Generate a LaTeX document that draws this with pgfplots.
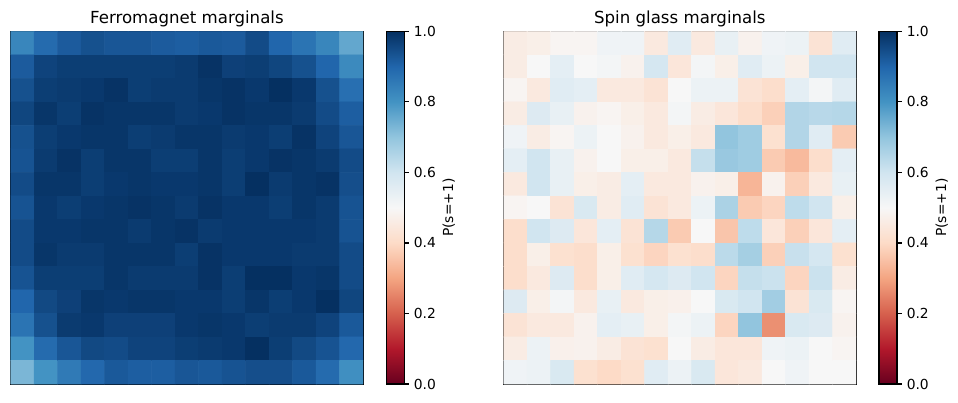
\documentclass[border=0pt]{standalone}
\usepackage{fontspec}
\setmainfont{DejaVu Sans}
\usepackage{pgfplots}
\pgfplotsset{compat=1.18}
\pgfplotsset{
  colormap={RdBu}{rgb255=(103,0,31) rgb255=(178,24,43) rgb255=(214,96,77) rgb255=(244,165,130) rgb255=(253,219,199) rgb255=(247,247,247) rgb255=(209,229,240) rgb255=(146,197,222) rgb255=(67,147,195) rgb255=(33,102,172) rgb255=(5,48,97)},
  hm/.style={
    scale only axis, width=254.8pt, height=254.8pt,
    anchor=south west,
    xmin=-0.5, xmax=14.5, ymin=-0.5, ymax=14.5, y dir=reverse,
    xtick=\empty, ytick=\empty,
    axis line style={line width=0.8pt},
    point meta min=0, point meta max=1,
    title style={font=\fontsize{12}{14}\selectfont, at={(0.5,1)}, anchor=base, yshift=0pt, inner sep=0pt},
    colorbar,
    colorbar style={
      width=13pt,
      at={(parent axis.north east)}, anchor=north west, xshift=8pt,
      ytick={0,0.2,0.4,0.6,0.8,1},
      ytick pos=right, yticklabel pos=right,
      yticklabel style={font=\fontsize{10}{12}\selectfont, /pgf/number format/.cd, fixed, fixed zerofill, precision=1, assume math mode=true},
      ylabel={P(s=+1)}, ylabel style={font=\fontsize{10}{12}\selectfont, yshift=2pt},
      tick align=outside, major tick length=3.5pt, tick style={line width=0.8pt, black},
      axis line style={line width=0.8pt},
    },
  }
}
\begin{document}
\begin{tikzpicture}
\path[use as bounding box] (0,0) rectangle (692.3pt,291.2pt);
\begin{axis}[hm, at={(7.7pt,13.7pt)}, title={Ferromagnet marginals}]
\addplot[matrix plot*, mesh/cols=15, mesh/ordering=x varies, point meta=explicit] table[row sep=\\, meta=c] {
x y c\\
0 0 0.83\\ 1 0 0.89\\ 2 0 0.92\\ 3 0 0.94\\ 4 0 0.93\\ 5 0 0.93\\ 6 0 0.92\\ 7 0 0.915\\ 8 0 0.925\\ 9 0 0.92\\ 10 0 0.95\\ 11 0 0.90\\ 12 0 0.87\\ 13 0 0.83\\ 14 0 0.76\\
0 1 0.92\\ 1 1 0.965\\ 2 1 0.975\\ 3 1 0.975\\ 4 1 0.975\\ 5 1 0.975\\ 6 1 0.975\\ 7 1 0.98\\ 8 1 0.995\\ 9 1 0.97\\ 10 1 0.975\\ 11 1 0.96\\ 12 1 0.94\\ 13 1 0.90\\ 14 1 0.82\\
0 2 0.94\\ 1 2 0.975\\ 2 2 0.98\\ 3 2 0.985\\ 4 2 0.995\\ 5 2 0.975\\ 6 2 0.98\\ 7 2 0.98\\ 8 2 0.99\\ 9 2 0.995\\ 10 2 0.985\\ 11 2 1.0\\ 12 2 0.985\\ 13 2 0.94\\ 14 2 0.88\\
0 3 0.96\\ 1 3 0.99\\ 2 3 0.975\\ 3 3 0.995\\ 4 3 0.99\\ 5 3 0.99\\ 6 3 0.99\\ 7 3 0.98\\ 8 3 0.985\\ 9 3 0.995\\ 10 3 0.99\\ 11 3 0.99\\ 12 3 0.98\\ 13 3 0.95\\ 14 3 0.915\\
0 4 0.94\\ 1 4 0.975\\ 2 4 0.985\\ 3 4 0.99\\ 4 4 0.99\\ 5 4 0.975\\ 6 4 0.98\\ 7 4 0.99\\ 8 4 0.99\\ 9 4 0.98\\ 10 4 0.985\\ 11 4 0.975\\ 12 4 0.995\\ 13 4 0.965\\ 14 4 0.93\\
0 5 0.935\\ 1 5 0.98\\ 2 5 0.995\\ 3 5 0.975\\ 4 5 0.99\\ 5 5 0.99\\ 6 5 0.975\\ 7 5 0.975\\ 8 5 0.99\\ 9 5 0.975\\ 10 5 0.985\\ 11 5 0.995\\ 12 5 0.99\\ 13 5 0.98\\ 14 5 0.95\\
0 6 0.95\\ 1 6 0.99\\ 2 6 0.99\\ 3 6 0.975\\ 4 6 0.985\\ 5 6 0.99\\ 6 6 0.985\\ 7 6 0.985\\ 8 6 0.99\\ 9 6 0.975\\ 10 6 1.0\\ 11 6 0.98\\ 12 6 0.99\\ 13 6 0.995\\ 14 6 0.945\\
0 7 0.935\\ 1 7 0.985\\ 2 7 0.975\\ 3 7 0.985\\ 4 7 0.99\\ 5 7 0.995\\ 6 7 0.99\\ 7 7 0.98\\ 8 7 0.995\\ 9 7 0.985\\ 10 7 0.985\\ 11 7 0.975\\ 12 7 0.99\\ 13 7 0.98\\ 14 7 0.935\\
0 8 0.95\\ 1 8 0.985\\ 2 8 0.985\\ 3 8 0.99\\ 4 8 0.99\\ 5 8 0.98\\ 6 8 0.99\\ 7 8 0.995\\ 8 8 0.98\\ 9 8 0.985\\ 10 8 0.985\\ 11 8 0.985\\ 12 8 0.985\\ 13 8 0.98\\ 14 8 0.935\\
0 9 0.95\\ 1 9 0.99\\ 2 9 0.98\\ 3 9 0.98\\ 4 9 0.99\\ 5 9 0.99\\ 6 9 0.99\\ 7 9 0.975\\ 8 9 0.995\\ 9 9 0.985\\ 10 9 0.985\\ 11 9 0.985\\ 12 9 0.98\\ 13 9 0.98\\ 14 9 0.95\\
0 10 0.935\\ 1 10 0.975\\ 2 10 0.975\\ 3 10 0.975\\ 4 10 0.99\\ 5 10 0.98\\ 6 10 0.98\\ 7 10 0.98\\ 8 10 0.995\\ 9 10 0.975\\ 10 10 1.0\\ 11 10 1.0\\ 12 10 0.985\\ 13 10 0.99\\ 14 10 0.95\\
0 11 0.90\\ 1 11 0.955\\ 2 11 0.97\\ 3 11 0.99\\ 4 11 0.985\\ 5 11 0.99\\ 6 11 0.99\\ 7 11 0.985\\ 8 11 0.985\\ 9 11 0.975\\ 10 11 0.99\\ 11 11 0.975\\ 12 11 0.985\\ 13 11 1.0\\ 14 11 0.96\\
0 12 0.87\\ 1 12 0.94\\ 2 12 0.98\\ 3 12 0.985\\ 4 12 0.97\\ 5 12 0.97\\ 6 12 0.97\\ 7 12 0.985\\ 8 12 0.99\\ 9 12 0.985\\ 10 12 0.975\\ 11 12 0.98\\ 12 12 0.98\\ 13 12 0.965\\ 14 12 0.925\\
0 13 0.80\\ 1 13 0.89\\ 2 13 0.93\\ 3 13 0.955\\ 4 13 0.95\\ 5 13 0.965\\ 6 13 0.965\\ 7 13 0.975\\ 8 13 0.98\\ 9 13 0.985\\ 10 13 1.0\\ 11 13 0.975\\ 12 13 0.955\\ 13 13 0.935\\ 14 13 0.895\\
0 14 0.73\\ 1 14 0.80\\ 2 14 0.855\\ 3 14 0.895\\ 4 14 0.925\\ 5 14 0.915\\ 6 14 0.915\\ 7 14 0.93\\ 8 14 0.925\\ 9 14 0.935\\ 10 14 0.945\\ 11 14 0.945\\ 12 14 0.925\\ 13 14 0.89\\ 14 14 0.81\\
};
\end{axis}
\begin{axis}[hm, at={(363.9pt,13.7pt)}, title={Spin glass marginals}]
\addplot[matrix plot*, mesh/cols=15, mesh/ordering=x varies, point meta=explicit] table[row sep=\\, meta=c] {
x y c\\
0 0 0.46\\ 1 0 0.47\\ 2 0 0.49\\ 3 0 0.49\\ 4 0 0.52\\ 5 0 0.52\\ 6 0 0.45\\ 7 0 0.56\\ 8 0 0.45\\ 9 0 0.54\\ 10 0 0.48\\ 11 0 0.52\\ 12 0 0.53\\ 13 0 0.43\\ 14 0 0.56\\
0 1 0.46\\ 1 1 0.50\\ 2 1 0.55\\ 3 1 0.50\\ 4 1 0.51\\ 5 1 0.48\\ 6 1 0.59\\ 7 1 0.44\\ 8 1 0.51\\ 9 1 0.47\\ 10 1 0.56\\ 11 1 0.53\\ 12 1 0.47\\ 13 1 0.60\\ 14 1 0.60\\
0 2 0.49\\ 1 2 0.45\\ 2 2 0.56\\ 3 2 0.55\\ 4 2 0.45\\ 5 2 0.45\\ 6 2 0.43\\ 7 2 0.50\\ 8 2 0.53\\ 9 2 0.53\\ 10 2 0.43\\ 11 2 0.41\\ 12 2 0.55\\ 13 2 0.51\\ 14 2 0.56\\
0 3 0.46\\ 1 3 0.57\\ 2 3 0.54\\ 3 3 0.48\\ 4 3 0.49\\ 5 3 0.47\\ 6 3 0.45\\ 7 3 0.51\\ 8 3 0.46\\ 9 3 0.44\\ 10 3 0.41\\ 11 3 0.38\\ 12 3 0.65\\ 13 3 0.64\\ 14 3 0.645\\
0 4 0.52\\ 1 4 0.46\\ 2 4 0.49\\ 3 4 0.53\\ 4 4 0.50\\ 5 4 0.48\\ 6 4 0.45\\ 7 4 0.47\\ 8 4 0.45\\ 9 4 0.70\\ 10 4 0.68\\ 11 4 0.42\\ 12 4 0.65\\ 13 4 0.56\\ 14 4 0.37\\
0 5 0.55\\ 1 5 0.60\\ 2 5 0.54\\ 3 5 0.48\\ 4 5 0.50\\ 5 5 0.47\\ 6 5 0.47\\ 7 5 0.45\\ 8 5 0.62\\ 9 5 0.69\\ 10 5 0.68\\ 11 5 0.37\\ 12 5 0.34\\ 13 5 0.41\\ 14 5 0.55\\
0 6 0.45\\ 1 6 0.60\\ 2 6 0.54\\ 3 6 0.47\\ 4 6 0.46\\ 5 6 0.55\\ 6 6 0.45\\ 7 6 0.45\\ 8 6 0.48\\ 9 6 0.47\\ 10 6 0.33\\ 11 6 0.48\\ 12 6 0.38\\ 13 6 0.45\\ 14 6 0.54\\
0 7 0.49\\ 1 7 0.50\\ 2 7 0.43\\ 3 7 0.58\\ 4 7 0.46\\ 5 7 0.56\\ 6 7 0.43\\ 7 7 0.45\\ 8 7 0.53\\ 9 7 0.66\\ 10 7 0.37\\ 11 7 0.39\\ 12 7 0.63\\ 13 7 0.60\\ 14 7 0.47\\
0 8 0.41\\ 1 8 0.60\\ 2 8 0.57\\ 3 8 0.44\\ 4 8 0.55\\ 5 8 0.43\\ 6 8 0.645\\ 7 8 0.37\\ 8 8 0.50\\ 9 8 0.36\\ 10 8 0.63\\ 11 8 0.44\\ 12 8 0.38\\ 13 8 0.44\\ 14 8 0.55\\
0 9 0.41\\ 1 9 0.47\\ 2 9 0.42\\ 3 9 0.41\\ 4 9 0.47\\ 5 9 0.42\\ 6 9 0.39\\ 7 9 0.42\\ 8 9 0.41\\ 9 9 0.635\\ 10 9 0.67\\ 11 9 0.38\\ 12 9 0.615\\ 13 9 0.59\\ 14 9 0.42\\
0 10 0.41\\ 1 10 0.45\\ 2 10 0.57\\ 3 10 0.41\\ 4 10 0.47\\ 5 10 0.56\\ 6 10 0.59\\ 7 10 0.57\\ 8 10 0.60\\ 9 10 0.39\\ 10 10 0.62\\ 11 10 0.61\\ 12 10 0.39\\ 13 10 0.61\\ 14 10 0.46\\
0 11 0.57\\ 1 11 0.47\\ 2 11 0.51\\ 3 11 0.45\\ 4 11 0.54\\ 5 11 0.45\\ 6 11 0.47\\ 7 11 0.475\\ 8 11 0.50\\ 9 11 0.58\\ 10 11 0.60\\ 11 11 0.675\\ 12 11 0.43\\ 13 11 0.58\\ 14 11 0.49\\
0 12 0.43\\ 1 12 0.45\\ 2 12 0.45\\ 3 12 0.48\\ 4 12 0.55\\ 5 12 0.54\\ 6 12 0.47\\ 7 12 0.51\\ 8 12 0.53\\ 9 12 0.39\\ 10 12 0.70\\ 11 12 0.27\\ 12 12 0.58\\ 13 12 0.57\\ 14 12 0.48\\
0 13 0.46\\ 1 13 0.53\\ 2 13 0.475\\ 3 13 0.48\\ 4 13 0.46\\ 5 13 0.43\\ 6 13 0.42\\ 7 13 0.50\\ 8 13 0.46\\ 9 13 0.44\\ 10 13 0.44\\ 11 13 0.52\\ 12 13 0.53\\ 13 13 0.50\\ 14 13 0.49\\
0 14 0.52\\ 1 14 0.53\\ 2 14 0.58\\ 3 14 0.42\\ 4 14 0.40\\ 5 14 0.42\\ 6 14 0.56\\ 7 14 0.53\\ 8 14 0.58\\ 9 14 0.44\\ 10 14 0.45\\ 11 14 0.50\\ 12 14 0.52\\ 13 14 0.50\\ 14 14 0.50\\
};
\end{axis}
\end{tikzpicture}
\end{document}
